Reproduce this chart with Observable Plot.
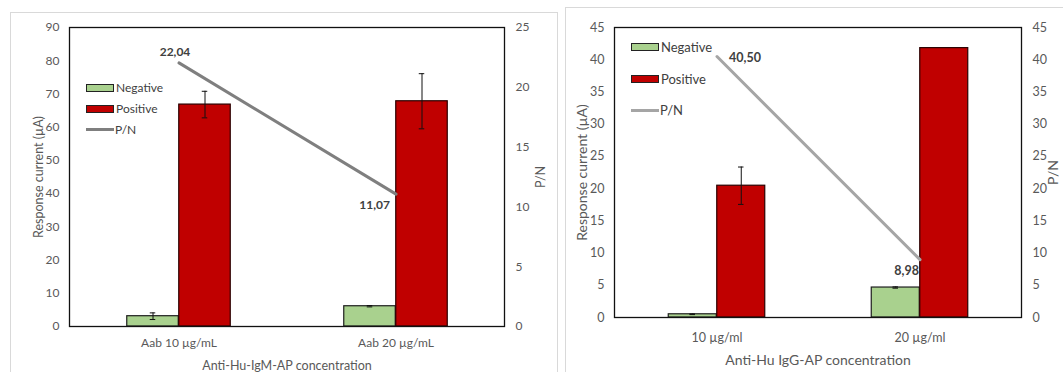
<!DOCTYPE html>
<html>
<head>
<meta charset="utf-8">
<script src="https://cdn.jsdelivr.net/npm/d3@7"></script>
<script src="https://cdn.jsdelivr.net/npm/@observablehq/plot@0.6"></script>
<style>
  body { margin: 0; background: #fff; font-family: Lato, "Open Sans", sans-serif; }
  #page { position: relative; width: 1063px; height: 372px; overflow: hidden; }
  .box { position: absolute; border: 1px solid #d9d9d9; box-sizing: border-box; }
  .plot { position: absolute; }
  .legend { position: absolute; font-size: 12px; color: #404040; }
  .legend .item { position: absolute; white-space: nowrap; display: flex; align-items: center; }
  .legend .sw { display: inline-block; width: 26px; height: 6px; border: 1px solid #222; margin-right: 2px; }
  .legend .ln { display: inline-block; width: 28px; height: 3px; margin-right: 1px; }
</style>
</head>
<body>
<div id="page">
  <div class="box" style="left:10px; top:12px; width:548px; height:370px;"></div>
  <div class="box" style="left:565px; top:7px; width:510px; height:375px;"></div>
  <div id="p1" class="plot" style="left:10px; top:12px;"></div>
  <div id="p2" class="plot" style="left:565px; top:7px;"></div>
  <div class="legend" style="left:86px; top:80px;">
    <div class="item" style="top:0px;"><span class="sw" style="background:#a9d18e"></span>Negative</div>
    <div class="item" style="top:21px;"><span class="sw" style="background:#c00000"></span>Positive</div>
    <div class="item" style="top:42px;"><span class="ln" style="background:#7f7f7f"></span>P/N</div>
  </div>
  <div class="legend" style="left:631px; top:39px; font-size:13px;">
    <div class="item" style="top:0px;"><span class="sw" style="background:#a9d18e"></span>Negative</div>
    <div class="item" style="top:32px;"><span class="sw" style="background:#c00000"></span>Positive</div>
    <div class="item" style="top:63px;"><span class="ln" style="background:#a5a5a5"></span>P/N</div>
  </div>
</div>
<script>
// ---- Data: Anti-Hu-IgM-AP panel ----
const igmCategories = ["Aab 10 µg/mL", "Aab 20 µg/mL"];
const igmNegative = [3.1, 6.1];
const igmNegativeErr = [1.0, 0.2];
const igmPositive = [66.8, 67.8];
const igmPositiveErr = [4.0, 8.3];
const igmPN = [22.04, 11.07];
const igmLeftTicks = [0, 10, 20, 30, 40, 50, 60, 70, 80, 90];
const igmRightTicks = [0, 5, 10, 15, 20, 25];

// ---- Data: Anti-Hu IgG-AP panel ----
const iggCategories = ["10 µg/ml", "20 µg/ml"];
const iggNegative = [0.5, 4.65];
const iggNegativeErr = [0.05, 0.1];
const iggPositive = [20.45, 41.8];
const iggPositiveErr = [2.9, 0];
const iggPN = [40.50, 8.98];
const iggLeftTicks = [0, 5, 10, 15, 20, 25, 30, 35, 40, 45];
const iggRightTicks = [0, 5, 10, 15, 20, 25, 30, 35, 40, 45];

const yTitle = "Response current (µA)";
const y2Title = "P/N";

function fmt(v) { return v.toFixed(2).replace(".", ","); }

function panel(cfg) {
  const { cats, neg, negErr, pos, posErr, pn, leftTicks, rightTicks, leftMax, rightMax,
          width, height, ml, mr, mt, mb, barW, lineColor, xLabel, labelMarks, fs, titleFs } = cfg;
  const k = leftMax / rightMax;
  const bw = (width - ml - mr) / cats.length;
  const negData = cats.map((c, i) => ({ cat: c, v: neg[i], e: negErr[i] }));
  const posData = cats.map((c, i) => ({ cat: c, v: pos[i], e: posErr[i] }));
  const pnData = cats.map((c, i) => ({ cat: c, pn: pn[i], i }));
  const negIL = bw / 2 - barW, negIR = bw / 2;
  const posIL = bw / 2, posIR = bw / 2 - barW;
  const cap = 3;
  const negC = bw / 2 - barW / 2, posC = bw / 2 + barW / 2;
  const errMarks = (data, c) => [
    Plot.ruleX(data.filter(d => d.e > 0), { x: "cat", y1: d => d.v - d.e, y2: d => d.v + d.e, dx: c - bw / 2, stroke: "#111", strokeWidth: 1 }),
    Plot.tickY(data.filter(d => d.e > 0), { x: "cat", y: d => d.v + d.e, insetLeft: c - cap, insetRight: bw - c - cap, stroke: "#111", strokeWidth: 1 }),
    Plot.tickY(data.filter(d => d.e > 0), { x: "cat", y: d => d.v - d.e, insetLeft: c - cap, insetRight: bw - c - cap, stroke: "#111", strokeWidth: 1 })
  ];
  const titleStyle = { fill: "#595959", fontSize: titleFs, lineAnchor: "middle", textAnchor: "middle" };
  return Plot.plot({
    width, height, marginLeft: ml, marginRight: mr, marginTop: mt, marginBottom: mb,
    style: { fontFamily: "Lato, 'Open Sans', sans-serif", fontSize: fs + "px", color: "#595959", background: "transparent" },
    x: { type: "band", domain: cats, padding: 0 },
    y: { domain: [0, leftMax] },
    marks: [
      Plot.barY(negData, { x: "cat", y: "v", fill: "#a9d18e", stroke: "#1e1e1e", strokeWidth: 1.2, insetLeft: negIL, insetRight: negIR }),
      Plot.barY(posData, { x: "cat", y: "v", fill: "#c00000", stroke: "#2a0000", strokeWidth: 1.2, insetLeft: posIL, insetRight: posIR }),
      ...errMarks(negData, negC),
      ...errMarks(posData, posC),
      Plot.frame({ stroke: "#111", strokeWidth: 1.3 }),
      Plot.line(pnData, { x: "cat", y: d => d.pn * k, stroke: lineColor, strokeWidth: 3 }),
      ...labelMarks.map((o, j) => Plot.text(pnData.filter(d => d.i === j), {
        x: "cat", y: d => d.pn * k, text: d => fmt(d.pn), fontWeight: "bold", fill: "#404040",
        fontSize: fs, textAnchor: o.anchor, dx: o.dx, dy: o.dy
      })),
      Plot.axisX({ tickSize: 0, tickPadding: cfg.xPad, label: null, fontSize: fs }),
      Plot.axisY({ anchor: "left", ticks: leftTicks, tickSize: 0, tickPadding: 10, fontSize: fs, label: null }),
      Plot.axisY({ anchor: "right", ticks: rightTicks.map(t => t * k), tickFormat: t => String(Math.round(t / k)), tickSize: 0, tickPadding: 11, fontSize: fs, label: null }),
      Plot.text([xLabel], { frameAnchor: "bottom", text: d => d, dy: cfg.xLabOff, ...titleStyle }),
      Plot.text([yTitle], { frameAnchor: "left", text: d => d, rotate: -90, dx: -cfg.yLabOff, ...titleStyle }),
      Plot.text([y2Title], { frameAnchor: "right", text: d => d, rotate: -90, dx: cfg.rLabOff, ...titleStyle })
    ]
  });
}

document.getElementById("p1").appendChild(panel({
  cats: igmCategories, neg: igmNegative, negErr: igmNegativeErr, pos: igmPositive, posErr: igmPositiveErr,
  pn: igmPN, leftTicks: igmLeftTicks, rightTicks: igmRightTicks, leftMax: 90, rightMax: 25,
  width: 548, height: 360, ml: 59, mr: 54, mt: 15, mb: 46, barW: 52, lineColor: "#7f7f7f",
  fs: 12, titleFs: 12.5,
  xLabel: "Anti-Hu-IgM-AP concentration", xPad: 12, xLabOff: 39, yLabOff: 31, rLabOff: 36,
  labelMarks: [{ anchor: "middle", dx: -4, dy: -11 }, { anchor: "end", dx: -6, dy: 11 }]
}));

document.getElementById("p2").appendChild(panel({
  cats: iggCategories, neg: iggNegative, negErr: iggNegativeErr, pos: iggPositive, posErr: iggPositiveErr,
  pn: iggPN, leftTicks: iggLeftTicks, rightTicks: iggRightTicks, leftMax: 45, rightMax: 45,
  width: 498, height: 365, ml: 49, mr: 42, mt: 20, mb: 55, barW: 48.5, lineColor: "#a5a5a5",
  fs: 12.5, titleFs: 14,
  xLabel: "Anti-Hu IgG-AP concentration", xPad: 16, xLabOff: 43, yLabOff: 32, rLabOff: 32,
  labelMarks: [{ anchor: "start", dx: 12, dy: 1 }, { anchor: "end", dx: -1, dy: 11 }]
}));
</script>
</body>
</html>
